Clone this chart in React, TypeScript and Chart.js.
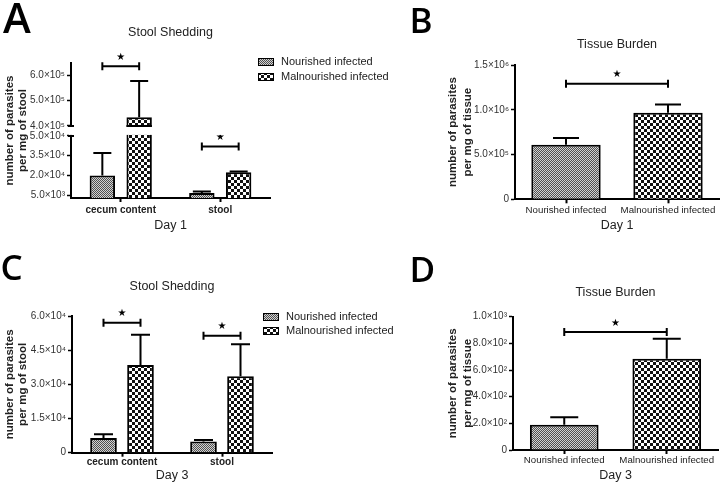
import React, { useEffect, useRef } from 'react';
import { Chart, LinearScale, registerables } from 'chart.js';

const FONT = "'Liberation Sans', Arial, Helvetica, sans-serif";

// ---------------- data ----------------
const stoolCategories = ['cecum content', 'stool'];
const tissueCategories = ['Nourished infected', 'Malnourished infected'];
const seriesLabels = ['Nourished infected', 'Malnourished infected'];

// A: Day 1, stool shedding (broken axis)
const day1StoolNourished = [20000, 6800];
const day1StoolNourishedSem = [17000, 1200];
const day1StoolMalnourished = [434000, 22500];
const day1StoolMalnourishedSem = [144000, 600];
const day1StoolBrackets = [637000, 42000];
const day1StoolTicks = [5000, 20000, 35000, 50000, 400000, 500000, 600000];
const day1StoolBreak = [3000, 50000, 400000, 650000]; // lower min, lower max, upper min, upper max

// B: Day 1, tissue burden
const day1Tissue = [610000, 967000];
const day1TissueSem = [76000, 93000];
const day1TissueBracket = 1290000;
const day1TissueTicks = [0, 500000, 1000000, 1500000];

// C: Day 3, stool shedding
const day3StoolNourished = [6400, 4900];
const day3StoolNourishedSem = [1700, 700];
const day3StoolMalnourished = [38500, 33600];
const day3StoolMalnourishedSem = [13300, 14000];
const day3StoolBrackets = [57000, 51300];
const day3StoolTicks = [0, 15000, 30000, 45000, 60000];

// D: Day 3, tissue burden
const day3Tissue = [190, 685];
const day3TissueSem = [55, 150];
const day3TissueBracket = 885;
const day3TissueTicks = [0, 200, 400, 600, 800, 1000];

// ---------------- helpers ----------------
const SUP: Record<string, string> = { '0': '⁰', '1': '¹', '2': '²', '3': '³', '4': '⁴', '5': '⁵', '6': '⁶', '7': '⁷', '8': '⁸', '9': '⁹' };
function sci(v: number) {
  if (v === 0) return '0';
  const e = Math.floor(Math.log10(v) + 1e-9);
  const m = v / Math.pow(10, e);
  return m.toFixed(1) + '×10' + String(e).split('').map((c) => SUP[c]).join('');
}

const LOW_FRAC = 0.46;
const GAP_FRAC = 0.074;

class BrokenLinearScale extends LinearScale {
  static id = 'brokenLinear';
  brokenDecimal(v: number) {
    const [lo, loMax, hiMin, hi] = day1StoolBreak;
    if (v <= lo) return 0;
    if (v <= loMax) return ((v - lo) / (loMax - lo)) * LOW_FRAC;
    if (v < hiMin) return LOW_FRAC + ((v - loMax) / (hiMin - loMax)) * GAP_FRAC;
    return LOW_FRAC + GAP_FRAC + ((v - hiMin) / (hi - hiMin)) * (1 - LOW_FRAC - GAP_FRAC);
  }
  getPixelForValue(value: any) {
    if (value === null || value === undefined || Number.isNaN(+value)) return NaN;
    return (this as any).getPixelForDecimal(this.brokenDecimal(+value));
  }
  getValueForPixel(pixel: number) {
    const d = (this as any).getDecimalForPixel(pixel);
    const [lo, loMax, hiMin, hi] = day1StoolBreak;
    if (d <= LOW_FRAC) return lo + (d / LOW_FRAC) * (loMax - lo);
    if (d <= LOW_FRAC + GAP_FRAC) return loMax + ((d - LOW_FRAC) / GAP_FRAC) * (hiMin - loMax);
    return hiMin + ((d - LOW_FRAC - GAP_FRAC) / (1 - LOW_FRAC - GAP_FRAC)) * (hi - hiMin);
  }
}

Chart.register(...registerables);
Chart.register(BrokenLinearScale as any);
Chart.defaults.font.family = FONT;
Chart.defaults.color = '#222';

function makePattern(cell: number, c1: string, c2: string) {
  const cv = document.createElement('canvas');
  cv.width = cv.height = cell * 2;
  const x = cv.getContext('2d')!;
  x.fillStyle = c1;
  x.fillRect(0, 0, cell * 2, cell * 2);
  x.fillStyle = c2;
  x.fillRect(0, 0, cell, cell);
  x.fillRect(cell, cell, cell, cell);
  return x.createPattern(cv, 'repeat')!;
}

function errorBarsPlugin(errors: number[][], cap: number) {
  return {
    id: 'errorBars',
    afterDatasetsDraw(chart: any) {
      const ctx = chart.ctx;
      const y = chart.scales.y;
      ctx.save();
      ctx.strokeStyle = '#000';
      ctx.lineWidth = 2;
      chart.data.datasets.forEach((ds: any, di: number) => {
        const errs = errors[di];
        if (!errs) return;
        chart.getDatasetMeta(di).data.forEach((bar: any, i: number) => {
          const top = y.getPixelForValue(ds.data[i] + errs[i]);
          ctx.beginPath();
          ctx.moveTo(bar.x, bar.y);
          ctx.lineTo(bar.x, top);
          ctx.moveTo(bar.x - cap / 2, top);
          ctx.lineTo(bar.x + cap / 2, top);
          ctx.stroke();
        });
      });
      ctx.restore();
    },
  };
}

type Bracket = { a: [number, number]; b: [number, number]; value: number };
function bracketsPlugin(items: Bracket[]) {
  return {
    id: 'sigBrackets',
    afterDatasetsDraw(chart: any) {
      const ctx = chart.ctx;
      const y = chart.scales.y;
      ctx.save();
      ctx.strokeStyle = '#000';
      ctx.fillStyle = '#000';
      ctx.lineWidth = 2;
      items.forEach((it) => {
        const x1 = chart.getDatasetMeta(it.a[0]).data[it.a[1]].x;
        const x2 = chart.getDatasetMeta(it.b[0]).data[it.b[1]].x;
        const py = y.getPixelForValue(it.value);
        ctx.beginPath();
        ctx.moveTo(x1, py);
        ctx.lineTo(x2, py);
        ctx.moveTo(x1, py - 4);
        ctx.lineTo(x1, py + 4);
        ctx.moveTo(x2, py - 4);
        ctx.lineTo(x2, py + 4);
        ctx.stroke();
        ctx.font = "10px 'DejaVu Sans', sans-serif";
        ctx.textAlign = 'center';
        ctx.textBaseline = 'middle';
        ctx.fillText('★', (x1 + x2) / 2, py - 9);
      });
      ctx.restore();
    },
  };
}

function legendPlugin(x: number, y: number, gap: number, size: number) {
  return {
    id: 'patternLegend',
    afterDraw(chart: any) {
      const ctx = chart.ctx;
      ctx.save();
      chart.data.datasets.forEach((ds: any, i: number) => {
        const yy = y + i * gap;
        ctx.fillStyle = ds.backgroundColor;
        ctx.fillRect(x, yy, 16, 8);
        ctx.strokeStyle = '#000';
        ctx.lineWidth = 1;
        ctx.strokeRect(x + 0.5, yy + 0.5, 15, 7);
        ctx.fillStyle = '#222';
        ctx.font = `${size}px ${FONT}`;
        ctx.textAlign = 'left';
        ctx.textBaseline = 'middle';
        ctx.fillText(ds.label, x + 23, yy + 4);
      });
      ctx.restore();
    },
  };
}

const brokenGapPlugin = {
  id: 'brokenGap',
  afterDatasetsDraw(chart: any) {
    const ctx = chart.ctx;
    const y = chart.scales.y;
    const { left, right } = chart.chartArea;
    const yLo = y.getPixelForValue(day1StoolBreak[1]);
    const yHi = y.getPixelForValue(day1StoolBreak[2]);
    ctx.save();
    ctx.fillStyle = '#fff';
    ctx.fillRect(left - 2, yHi + 1, right - left + 4, yLo - yHi - 2);
    ctx.strokeStyle = '#000';
    ctx.lineWidth = 2;
    ctx.beginPath();
    ctx.moveTo(left - 3, yHi);
    ctx.lineTo(left + 3, yHi);
    ctx.moveTo(left - 3, yLo);
    ctx.lineTo(left + 3, yLo);
    chart.data.datasets.forEach((ds: any, di: number) => {
      chart.getDatasetMeta(di).data.forEach((bar: any, i: number) => {
        if (ds.data[i] > day1StoolBreak[2]) {
          ctx.moveTo(bar.x - bar.width / 2, yHi);
          ctx.lineTo(bar.x + bar.width / 2, yHi);
        }
      });
    });
    ctx.stroke();
    ctx.restore();
  },
};

function makeOptions(c: any) {
  return {
    responsive: false,
    animation: false,
    events: [],
    layout: { padding: c.padding },
    plugins: {
      legend: { display: false },
      tooltip: { enabled: false },
      title: {
        display: true,
        text: c.title,
        fullSize: false,
        color: '#222',
        font: { size: 12.5, weight: 'normal', family: FONT, lineHeight: 1.2 },
        padding: c.titlePad,
      },
    },
    scales: {
      x: {
        type: 'category',
        offset: true,
        border: { display: true, color: '#000', width: 2 },
        grid: { display: true, drawOnChartArea: false, drawTicks: true, tickLength: 4, tickWidth: 2, tickColor: '#000', offset: false },
        ticks: { color: '#222', font: c.xTickFont, padding: c.xTickPad, maxRotation: 0, autoSkip: false },
        title: {
          display: true,
          text: c.xTitle,
          color: '#222',
          font: { size: 12.5, family: FONT, lineHeight: 1.2 },
          padding: { top: 0, bottom: 0 },
        },
        afterFit: (s: any) => {
          s.height = c.xHeight;
        },
      },
      y: {
        type: c.yType,
        min: c.min,
        max: c.max,
        border: { display: true, color: '#000', width: 2 },
        grid: { display: true, drawOnChartArea: false, drawTicks: true, tickLength: 4, tickWidth: 1.5, tickColor: '#000' },
        ticks: { color: '#333', font: { size: c.yTickSize, family: FONT }, padding: 2, callback: (v: any) => sci(Number(v)) },
        afterBuildTicks: (s: any) => {
          s.ticks = c.ticks.map((v: number) => ({ value: v }));
        },
        title: {
          display: true,
          text: c.yTitle,
          color: '#222',
          font: { size: 11.5, weight: 'bold', family: FONT, lineHeight: c.yTitleLH },
          padding: { top: c.yTitlePad, bottom: 0 },
        },
        afterFit: (s: any) => {
          s.width = c.yWidth;
        },
      },
    },
  };
}

const NOURISHED_COLORS = ['#d2d2d2', '#505050'];
const MALNOURISHED_COLORS = ['#ffffff', '#111111'];

function buildA() {
  const pN = makePattern(1, NOURISHED_COLORS[0], NOURISHED_COLORS[1]);
  const pM = makePattern(3, MALNOURISHED_COLORS[0], MALNOURISHED_COLORS[1]);
  const bar = { borderColor: '#000', borderWidth: 2, categoryPercentage: 0.74, barPercentage: 0.69 };
  return {
    type: 'bar',
    data: {
      labels: stoolCategories,
      datasets: [
        { label: seriesLabels[0], data: day1StoolNourished, backgroundColor: pN, ...bar },
        { label: seriesLabels[1], data: day1StoolMalnourished, backgroundColor: pM, ...bar },
      ],
    },
    options: makeOptions({
      padding: { left: 0, right: 135, top: 0, bottom: 8.5 },
      title: 'Stool Shedding',
      titlePad: { top: 25.5, bottom: 22.5 },
      xTitle: 'Day 1',
      xHeight: 35.5,
      xTickFont: { size: 10, weight: 'bold', family: FONT },
      xTickPad: 2,
      yType: 'brokenLinear',
      min: day1StoolBreak[0],
      max: day1StoolBreak[3],
      ticks: day1StoolTicks,
      yTickSize: 10,
      yTitle: ['number of parasites', 'per mg of stool'],
      yTitleLH: 1.15,
      yTitlePad: 3.4,
      yWidth: 71,
    }),
    plugins: [
      errorBarsPlugin([day1StoolNourishedSem, day1StoolMalnourishedSem], 18),
      bracketsPlugin([
        { a: [0, 0], b: [1, 0], value: day1StoolBrackets[0] },
        { a: [0, 1], b: [1, 1], value: day1StoolBrackets[1] },
      ]),
      brokenGapPlugin,
      legendPlugin(258, 58, 15, 11),
    ],
  };
}

function buildB() {
  const pN = makePattern(1, NOURISHED_COLORS[0], NOURISHED_COLORS[1]);
  const pM = makePattern(3, MALNOURISHED_COLORS[0], MALNOURISHED_COLORS[1]);
  return {
    type: 'bar',
    data: {
      labels: tissueCategories,
      datasets: [
        { label: 'Day 1', data: day1Tissue, backgroundColor: [pN, pM], borderColor: '#000', borderWidth: 2, categoryPercentage: 1, barPercentage: 0.68 },
      ],
    },
    options: makeOptions({
      padding: { left: 78, right: 1, top: 0, bottom: 9.2 },
      title: 'Tissue Burden',
      titlePad: { top: 37.5, bottom: 12.5 },
      xTitle: 'Day 1',
      xHeight: 33.5,
      xTickFont: { size: 9.7, family: FONT },
      xTickPad: 1,
      yType: 'linear',
      min: 0,
      max: 1500000,
      ticks: day1TissueTicks,
      yTickSize: 10,
      yTitle: ['number of parasites', 'per mg of tissue'],
      yTitleLH: 1.3,
      yTitlePad: 2.5,
      yWidth: 72,
    }),
    plugins: [
      errorBarsPlugin([day1TissueSem], 26),
      bracketsPlugin([{ a: [0, 0], b: [0, 1], value: day1TissueBracket }]),
    ],
  };
}

function buildC() {
  const pN = makePattern(1, NOURISHED_COLORS[0], NOURISHED_COLORS[1]);
  const pM = makePattern(3, MALNOURISHED_COLORS[0], MALNOURISHED_COLORS[1]);
  const bar = { borderColor: '#000', borderWidth: 2, categoryPercentage: 0.74, barPercentage: 0.72 };
  return {
    type: 'bar',
    data: {
      labels: stoolCategories,
      datasets: [
        { label: seriesLabels[0], data: day3StoolNourished, backgroundColor: pN, ...bar },
        { label: seriesLabels[1], data: day3StoolMalnourished, backgroundColor: pM, ...bar },
      ],
    },
    options: makeOptions({
      padding: { left: 0, right: 133, top: 0, bottom: 2.2 },
      title: 'Stool Shedding',
      titlePad: { top: 37.5, bottom: 21.5 },
      xTitle: 'Day 3',
      xHeight: 30.1,
      xTickFont: { size: 10, weight: 'bold', family: FONT },
      xTickPad: 0,
      yType: 'linear',
      min: 0,
      max: 60000,
      ticks: day3StoolTicks,
      yTickSize: 10,
      yTitle: ['number of parasites', 'per mg of stool'],
      yTitleLH: 1.2,
      yTitlePad: 2.6,
      yWidth: 72,
    }),
    plugins: [
      errorBarsPlugin([day3StoolNourishedSem, day3StoolMalnourishedSem], 19),
      bracketsPlugin([
        { a: [0, 0], b: [1, 0], value: day3StoolBrackets[0] },
        { a: [0, 1], b: [1, 1], value: day3StoolBrackets[1] },
      ]),
      legendPlugin(263, 71, 14, 11),
    ],
  };
}

function buildD() {
  const pN = makePattern(1, NOURISHED_COLORS[0], NOURISHED_COLORS[1]);
  const pM = makePattern(3, MALNOURISHED_COLORS[0], MALNOURISHED_COLORS[1]);
  return {
    type: 'bar',
    data: {
      labels: tissueCategories,
      datasets: [
        { label: 'Day 3', data: day3Tissue, backgroundColor: [pN, pM], borderColor: '#000', borderWidth: 2, categoryPercentage: 1, barPercentage: 0.67 },
      ],
    },
    options: makeOptions({
      padding: { left: 78, right: 2, top: 0, bottom: 2.2 },
      title: 'Tissue Burden',
      titlePad: { top: 43.5, bottom: 16.2 },
      xTitle: 'Day 3',
      xHeight: 32.8,
      xTickFont: { size: 9.7, family: FONT },
      xTickPad: 1,
      yType: 'linear',
      min: 0,
      max: 1000,
      ticks: day3TissueTicks,
      yTickSize: 10,
      yTitle: ['number of parasites', 'per mg of tissue'],
      yTitleLH: 1.3,
      yTitlePad: 2.5,
      yWidth: 70,
    }),
    plugins: [
      errorBarsPlugin([day3TissueSem], 28),
      bracketsPlugin([{ a: [0, 0], b: [0, 1], value: day3TissueBracket }]),
    ],
  };
}

function Panel({ left, top, width, height, build }: { left: number; top: number; width: number; height: number; build: () => any }) {
  const ref = useRef<HTMLCanvasElement>(null);
  useEffect(() => {
    const chart = new Chart(ref.current as HTMLCanvasElement, build());
    return () => chart.destroy();
  }, []);
  return <canvas ref={ref} width={width} height={height} style={{ position: 'absolute', left, top, width, height }} />;
}

const letterStyle = (left: number, top: number, size: number): React.CSSProperties => ({
  position: 'absolute',
  left,
  top,
  fontFamily: "'Open Sans', 'Noto Sans', sans-serif",
  fontWeight: 600,
  fontSize: size,
  lineHeight: 1,
  color: '#000',
});

export default function App() {
  return (
    <div style={{ position: 'fixed', left: 0, top: 0, width: 720, height: 485, background: '#fff', overflow: 'hidden' }}>
      <Panel left={0} top={0} width={405} height={242} build={buildA} />
      <Panel left={365} top={0} width={355} height={242} build={buildB} />
      <Panel left={0} top={242} width={405} height={243} build={buildC} />
      <Panel left={365} top={242} width={355} height={243} build={buildD} />
      <div style={letterStyle(3, -4.3, 42)}>A</div>
      <div style={letterStyle(409.6, 1.9, 35)}>B</div>
      <div style={letterStyle(0.5, 249, 35)}>C</div>
      <div style={letterStyle(409.6, 251, 35)}>D</div>
    </div>
  );
}
